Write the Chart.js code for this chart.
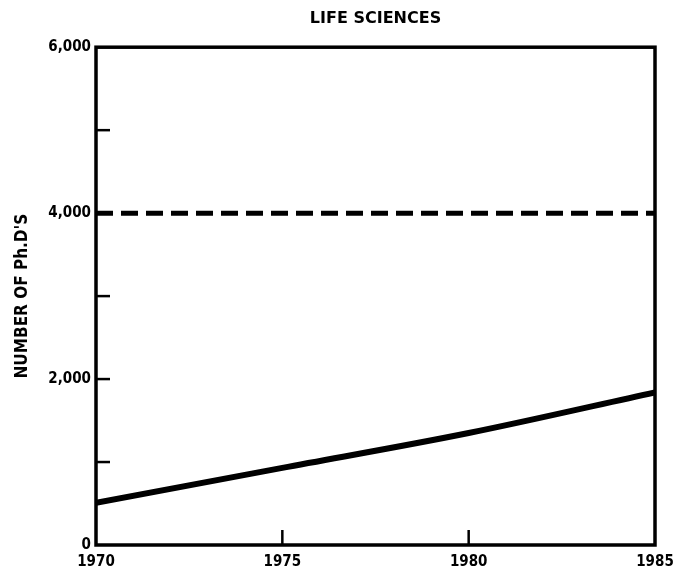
<!DOCTYPE html>
<html>
<head>
<meta charset="utf-8">
<script src="https://cdn.jsdelivr.net/npm/chart.js@4"></script>
<style>
  body { margin: 0; background: #fff; }
  #wrap { width: 673px; height: 580px; }
</style>
</head>
<body>
<div id="wrap"><canvas id="chart" width="673" height="580"></canvas></div>
<script>
const years = [1970, 1975, 1980, 1985];
const phdCount = [510, 930, 1350, 1840];
const targetLevel = [4000, 4000, 4000, 4000];
const yTicks = [0, 1000, 2000, 3000, 4000, 5000, 6000];
const yLabelled = [0, 2000, 4000, 6000];
const xTicks = [1970, 1975, 1980, 1985];

const font = "'DejaVu Sans Condensed', 'Liberation Sans', Arial, sans-serif";

const toPoints = (vals) => years.map((yr, i) => ({ x: yr, y: vals[i] }));

// frame round the plot and the small inward tick marks
const framePlugin = {
    id: 'frame',
    afterDatasetsDraw(chart) {
        const { ctx, chartArea: a, scales } = chart;
        ctx.save();
        ctx.strokeStyle = '#000';
        ctx.lineWidth = 3.5;
        ctx.strokeRect(a.left, a.top, a.right - a.left, a.bottom - a.top);
        ctx.lineWidth = 2.5;
        yTicks.slice(1, -1).forEach(v => {
            const py = scales.y.getPixelForValue(v);
            ctx.beginPath();
            ctx.moveTo(a.left, py);
            ctx.lineTo(a.left + 14, py);
            ctx.stroke();
        });
        xTicks.slice(1, -1).forEach(v => {
            const px = scales.x.getPixelForValue(v);
            ctx.beginPath();
            ctx.moveTo(px, a.bottom);
            ctx.lineTo(px, a.bottom - 15);
            ctx.stroke();
        });
        ctx.restore();
    }
};

const ctx = document.getElementById('chart').getContext('2d');
const chart = new Chart(ctx, {
    type: 'line',
    data: {
        datasets: [{
            data: toPoints(targetLevel),
            borderColor: '#000',
            borderWidth: 5,
            borderDash: [17, 8],
            pointRadius: 0
        }, {
            data: toPoints(phdCount),
            borderColor: '#000',
            borderWidth: 6,
            cubicInterpolationMode: 'monotone',
            pointRadius: 0
        }]
    },
    options: {
        responsive: false,
        animation: false,
        layout: { padding: { left: 12, right: 18, top: 0, bottom: 0 } },
        plugins: {
            legend: { display: false },
            tooltip: { enabled: false },
            title: {
                display: true,
                fullSize: false,
                text: 'LIFE SCIENCES',
                color: '#000',
                font: { family: "'DejaVu Sans', sans-serif", size: 16, weight: 'bold' },
                padding: { top: 9, bottom: 19 }
            }
        },
        scales: {
            x: {
                type: 'linear',
                min: 1970,
                max: 1985,
                afterBuildTicks: (s) => { s.ticks = xTicks.map(v => ({ value: v })); },
                grid: { display: false, drawTicks: false },
                border: { display: false },
                ticks: {
                    color: '#000',
                    padding: 8,
                    maxRotation: 0,
                    font: { family: font, size: 15, weight: 'bold' },
                    callback: (v) => String(v)
                },
                afterFit: (s) => { s.height = 35; s.paddingLeft = 0; s.paddingRight = 0; }
            },
            y: {
                min: 0,
                max: 6000,
                afterBuildTicks: (s) => { s.ticks = yTicks.map(v => ({ value: v })); },
                grid: { display: false, drawTicks: false },
                border: { display: false },
                ticks: {
                    color: '#000',
                    padding: 5,
                    font: { family: font, size: 15, weight: 'bold' },
                    callback: (v) => yLabelled.includes(v) ? v.toLocaleString('en-US') : ''
                },
                title: {
                    display: true,
                    text: "NUMBER OF Ph.D'S",
                    color: '#000',
                    font: { family: font, size: 17, weight: 'bold' },
                    padding: { top: 0, bottom: 10 }
                },
                afterFit: (s) => { s.width = 84; s.paddingTop = 0; s.paddingBottom = 0; }
            }
        }
    },
    plugins: [framePlugin]
});
</script>
</body>
</html>
